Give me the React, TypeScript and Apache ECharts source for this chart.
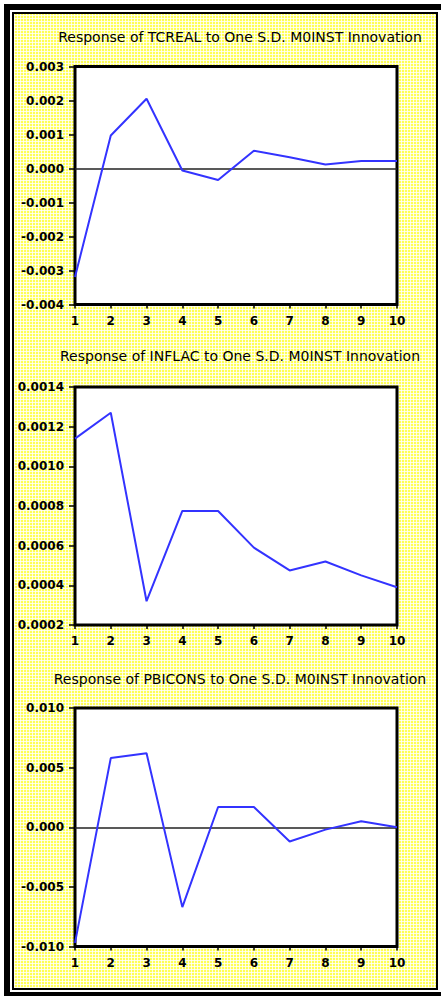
import React, { useEffect, useRef } from "react";
import * as echarts from "echarts";

// Horizon (periods) shared by all three impulse responses
const periods = ["1", "2", "3", "4", "5", "6", "7", "8", "9", "10"];

// Responses to a one S.D. M0INST innovation
const tcrealResponse = [-0.00319, 0.00097, 0.00205, -0.00006, -0.00034, 0.00052, 0.00033, 0.00012, 0.00022, 0.00022];
const inflacResponse = [0.00114, 0.00127, 0.00032, 0.000775, 0.000775, 0.00059, 0.000475, 0.00052, 0.00045, 0.00039];
const pbiconsResponse = [-0.0097, 0.0058, 0.0062, -0.0067, 0.0017, 0.0017, -0.0012, -0.0002, 0.0005, 0.0];

const panelTitles = [
  "Response of TCREAL to One S.D. M0INST Innovation",
  "Response of INFLAC to One S.D. M0INST Innovation",
  "Response of PBICONS to One S.D. M0INST Innovation",
];

// Value-axis ranges: [min, max, interval, decimals]
const axisRanges: [number, number, number, number][] = [
  [-0.004, 0.003, 0.001, 3],
  [0.0002, 0.0014, 0.0002, 4],
  [-0.01, 0.01, 0.005, 3],
];

const W = 441;
const H = 996;
const FONT = "DejaVu Sans";

export default function App() {
  const ref = useRef<HTMLDivElement>(null);

  useEffect(() => {
    if (!ref.current) return;
    const chart = echarts.init(ref.current, undefined, { renderer: "svg" });

    const grids = [
      { left: 75, top: 66.5, width: 322, height: 238 },
      { left: 75, top: 387, width: 322, height: 238 },
      { left: 75, top: 708, width: 322, height: 238.5 },
    ];
    const titleY = [37, 356, 679];
    const seriesData = [tcrealResponse, inflacResponse, pbiconsResponse];
    const zeroLine = [true, false, true];

    const option: any = {
      animation: false,
      backgroundColor: "transparent",
      grid: grids.map((g) => ({
        ...g,
        show: true,
        backgroundColor: "#ffffff",
        borderColor: "#000000",
        borderWidth: 3,
        containLabel: false,
      })),
      xAxis: grids.map((_, i) => ({
        type: "category",
        gridIndex: i,
        data: periods,
        boundaryGap: false,
        axisLine: { show: false, onZero: false },
        axisTick: { show: true, inside: false, length: 4, lineStyle: { color: "#000", width: 1.5 } },
        axisLabel: {
          show: true,
          margin: 10,
          color: "#000",
          fontFamily: FONT,
          fontSize: 12,
          fontWeight: "bold",
        },
        splitLine: { show: false },
      })),
      yAxis: axisRanges.map(([min, max, interval, dec], i) => ({
        type: "value",
        gridIndex: i,
        min,
        max,
        interval,
        axisLine: { show: false, onZero: false },
        axisTick: { show: true, inside: false, length: 6, lineStyle: { color: "#000", width: 1.5 } },
        axisLabel: {
          show: true,
          margin: 11,
          color: "#000",
          fontFamily: FONT,
          fontSize: 12,
          fontWeight: "bold",
          formatter: (v: number) => v.toFixed(dec),
        },
        splitLine: { show: false },
      })),
      series: seriesData.map((d, i) => ({
        type: "line",
        xAxisIndex: i,
        yAxisIndex: i,
        data: d,
        showSymbol: false,
        symbol: "none",
        lineStyle: { color: "#3333ff", width: 2 },
        z: 3,
        markLine: zeroLine[i]
          ? {
              silent: true,
              symbol: "none",
              label: { show: false },
              lineStyle: { color: "#222", width: 1.5, type: "solid" },
              data: [{ yAxis: 0 }],
              z: 2,
            }
          : undefined,
      })),
      graphic: [
        // outer heavy frame
        {
          type: "rect",
          shape: { x: 7, y: 7, width: 440, height: 988 },
          style: { fill: "none", stroke: "#000", lineWidth: 6 },
          silent: true,
        },
        // inner thin frame
        {
          type: "rect",
          shape: { x: 13, y: 13, width: 424, height: 976 },
          style: { fill: "none", stroke: "#000", lineWidth: 2 },
          silent: true,
        },
        ...panelTitles.map((t, i) => ({
          type: "text",
          x: 240,
          y: titleY[i],
          style: {
            text: t,
            fill: "#000",
            font: `14px "${FONT}"`,
            textAlign: "center",
            textVerticalAlign: "middle",
          },
          silent: true,
        })),
      ],
    };

    chart.setOption(option);
    return () => chart.dispose();
  }, []);

  return (
    <div style={{ position: "fixed", left: 0, top: 0, width: W, height: H, background: "#ffffff" }}>
      <div
        style={{
          position: "absolute",
          left: 14,
          top: 14,
          width: 422,
          height: 974,
          backgroundColor: "#ffff55",
          backgroundImage:
            "repeating-linear-gradient(0deg, rgba(255,255,255,0.8) 0px, rgba(255,255,255,0.8) 1px, transparent 1px, transparent 3px)," +
            "repeating-linear-gradient(90deg, rgba(255,255,255,0.8) 0px, rgba(255,255,255,0.8) 1px, transparent 1px, transparent 3px)",
        }}
      />
      <div ref={ref} style={{ position: "absolute", left: 0, top: 0, width: W, height: H }} />
    </div>
  );
}
